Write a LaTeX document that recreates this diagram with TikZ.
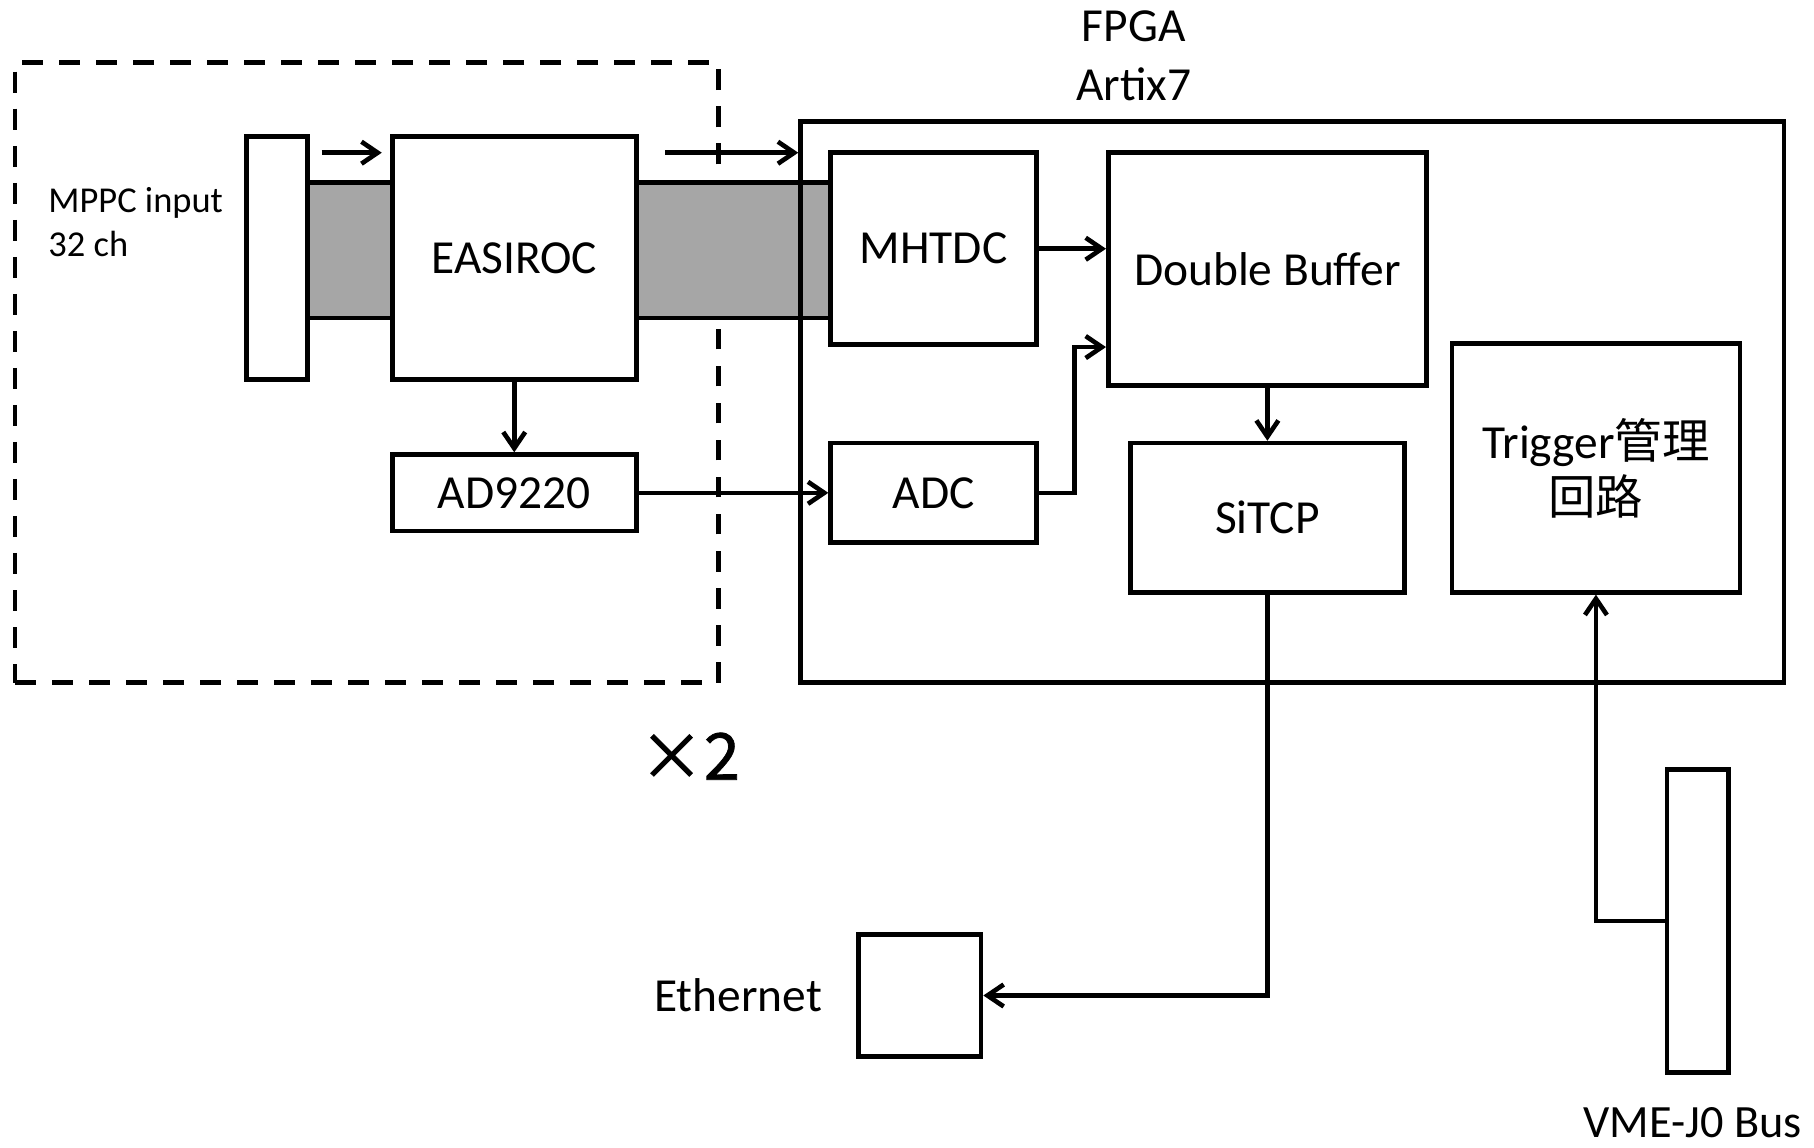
\documentclass[tikz,border=0pt]{standalone}
\usepackage{fontspec}
\setmainfont{Carlito}
\newfontfamily\cjk{Noto Sans CJK JP}
\newfontfamily\cjkheavy[FakeBold=1.2]{Noto Sans CJK JP}
\usetikzlibrary{arrows.meta,backgrounds}
\definecolor{bandgray}{RGB}{166,166,166}
\begin{document}
\begin{tikzpicture}[x=1pt,y=-1pt,
  box/.style={draw, line width=4pt, fill=white, inner sep=0pt,
    font=\fontsize{41}{50}\selectfont},
  lbl/.style={inner sep=0pt, font=\fontsize{41}{50}\selectfont},
  small/.style={inner sep=0pt, font=\fontsize{31.5}{38}\selectfont},
  wire/.style={line width=4pt},
  conn/.style={line width=4pt, -{Straight Barb[length=14pt,width=19pt,line width=4pt]}},
  grpbox/.style={draw, line width=4pt, dash pattern=on 18pt off 14pt}]
\useasboundingbox (0,0) rectangle (1568,992);

% boxes
\node[box, minimum width=53pt, minimum height=210pt] (conn) at (239.5,223) {};
\node[box, minimum width=211pt, minimum height=210pt] (easiroc) at (444.5,223) {EASIROC};
\node[box, minimum width=211pt, minimum height=66pt] (ad) at (444.5,426) {AD9220};
\node[draw, line width=4pt, minimum width=850pt, minimum height=485pt] (fpga) at (1117,347.5) {};
\node[box, minimum width=178pt, minimum height=166pt] (mhtdc) at (807,215) {MHTDC};
\node[box, minimum width=178pt, minimum height=86pt] (adc) at (807,426) {ADC};
\node[box, minimum width=275pt, minimum height=201pt] (db) at (1095.5,232.5) {Double Buffer};
\node[box, minimum width=237pt, minimum height=129pt] (sitcp) at (1095.5,447.5) {SiTCP};
\node[box, minimum width=249pt, minimum height=215pt, align=center] (trig) at (1379.5,404.5)
  {Trigger{\cjk 管理}\\[-1.5pt]{\cjk 回路}};
\node[box, minimum width=106pt, minimum height=105pt] (eth) at (795,860.5) {};
\node[box, minimum width=53pt, minimum height=262pt] (vme) at (1467.5,796) {};

% background: dashed group and signal band
\begin{pgfonlayer}{background}
\node[grpbox, minimum width=608pt, minimum height=536pt] (grp) at (317,322) {};
\coordinate (bt) at (0,158);
\coordinate (bb) at (0,275);
\fill[bandgray] (conn.east |- bt) rectangle (easiroc.west |- bb);
\fill[bandgray] (easiroc.east |- bt) rectangle (mhtdc.west |- bb);
\draw[wire] (conn.east |- bt) -- (easiroc.west |- bt);
\draw[wire] (conn.east |- bb) -- (easiroc.west |- bb);
\draw[wire] (easiroc.east |- bt) -- (mhtdc.west |- bt);
\draw[wire] (easiroc.east |- bb) -- (mhtdc.west |- bb);
\end{pgfonlayer}

% labels
\node[lbl, anchor=base] (fpgalbl) at (980,36) {FPGA};
\node[lbl, anchor=base] (artix) at (980,86.5) {Artix7};
\node[lbl, anchor=base] (ethlbl) at (638,874.6) {Ethernet};
\node[inner sep=0pt, anchor=base, font=\fontsize{40}{48}\selectfont] (vmelbl) at (1463,983) {VME-J0 Bus};
\node[small, anchor=base west] (mppc1) at (41.7,184) {MPPC input};
\node[small, anchor=base west] (mppc2) at (41.7,222) {32 ch};
\node[inner sep=0pt, anchor=base, font=\cjkheavy\fontsize{56}{60}\selectfont] (times) at (596,674) {×2};

% connectors
\coordinate (a1) at (278,132);
\coordinate (a2) at (330,132);
\coordinate (b1) at (575,132);
\draw[conn] (a1) -- (a2);
\draw[conn] (b1) -- (b1 -| fpga.west);
\draw[conn] (easiroc.south) -- (ad.north);
\draw[conn] (ad.east) -- (adc.west);
\draw[conn] (mhtdc.east) -- (mhtdc.east -| db.west);
\draw[conn] (adc.east) -- ++(31,0) |- (db.west |- mhtdc.south);
\draw[conn] (db.south) -- (sitcp.north);
\draw[conn] (sitcp.south) |- (eth.east);
\draw[conn] (vme.west) -| (trig.south);
\end{tikzpicture}
\end{document}
